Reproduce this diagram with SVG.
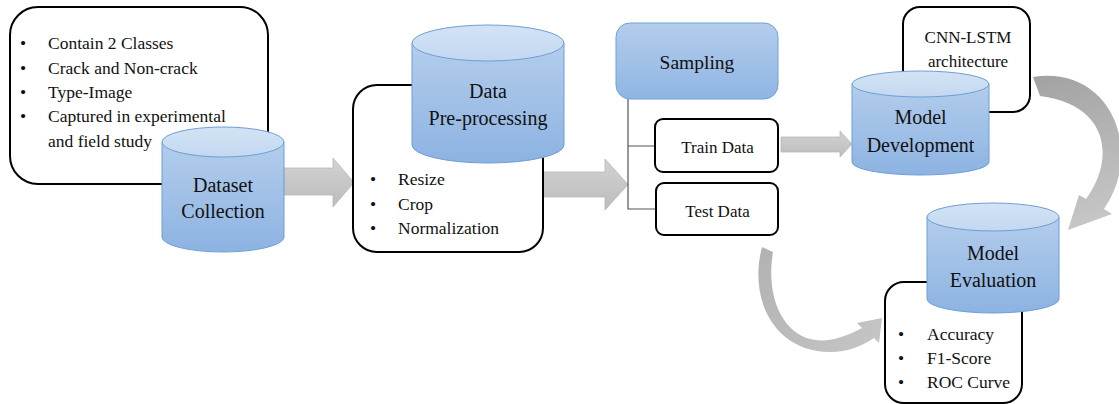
<svg xmlns="http://www.w3.org/2000/svg" width="1119" height="404" viewBox="0 0 1119 404" font-family="'Liberation Serif', 'Times New Roman', Tinos, 'DejaVu Serif', serif">
<defs>
<linearGradient id="cylBody" x1="0" y1="0" x2="0" y2="1">
<stop offset="0" stop-color="#b3cdec"/>
<stop offset="1" stop-color="#8db3e2"/>
</linearGradient>
<linearGradient id="cylTop" x1="0" y1="0" x2="0" y2="1">
<stop offset="0" stop-color="#d3e3f5"/>
<stop offset="1" stop-color="#c3d8f0"/>
</linearGradient>
<linearGradient id="sampG" x1="0" y1="0" x2="0" y2="1">
<stop offset="0" stop-color="#b4cdec"/>
<stop offset="1" stop-color="#8fb5e3"/>
</linearGradient>
<linearGradient id="arrG" x1="0" y1="0" x2="0" y2="1">
<stop offset="0" stop-color="#d2d2d2"/>
<stop offset="1" stop-color="#bcbcbc"/>
</linearGradient>
<linearGradient id="curveA" gradientUnits="userSpaceOnUse" x1="1035" y1="80" x2="1085" y2="225">
<stop offset="0" stop-color="#a3a3a3"/>
<stop offset="1" stop-color="#c6c6c6"/>
</linearGradient>
<linearGradient id="curveB" gradientUnits="userSpaceOnUse" x1="765" y1="250" x2="880" y2="330">
<stop offset="0" stop-color="#b3b3b3"/>
<stop offset="1" stop-color="#c4c4c4"/>
</linearGradient>
</defs>
<style>
text { fill: #111; }
.box { fill: #fff; stroke: #000; stroke-width: 2; }
.body { fill: url(#cylBody); stroke: #6d9fd6; stroke-width: 1; }
.top { fill: url(#cylTop); stroke: #6d9fd6; stroke-width: 1; }
.t17 { font-size: 17.5px; }
.t20 { font-size: 20px; text-anchor: middle; }
.t17m { font-size: 17px; text-anchor: middle; }
.arr { fill: url(#arrG); stroke: #b8b8b8; stroke-width: 0.8; }
.tree { fill: none; stroke: #555; stroke-width: 1.2; }
</style>
<rect width="1119" height="404" fill="#fff"/>

<g id="connectors">
<path class="arr" d="M284,168 H333 V158 L354,182.5 L333,207 V195 H284 Z"/>
<path class="arr" d="M543,172 H605 V159 L628,184.5 L605,210 V197 H543 Z"/>
<path class="arr" d="M781,137 H840 V131 L852,144 L840,157 V152 H781 Z"/>
<path class="tree" d="M628,99 V209 H656 M628,146 H655"/>
<path fill="url(#curveA)" d="M1033,77 C1110,65 1145,150 1104,209 L1112,214 L1068,230 L1079,195 L1086,199 C1115,160 1110,105 1040,96 Z"/>
<path fill="url(#curveB)" d="M762,247 C748,300 775,352 830,352 C848,352 862,346 874,338 L879,343 L882,318 L857,323 L862,328 C845,337 830,342 815,340 C785,336 765,300 773,252 Z"/>
</g>

<g id="dataset-info">
<rect class="box" x="10" y="7" width="258" height="177" rx="28"/>
<text class="t17" x="20" y="49">•</text><text class="t17" x="48" y="49">Contain 2 Classes</text>
<text class="t17" x="20" y="73.5">•</text><text class="t17" x="48" y="73.5">Crack and Non-crack</text>
<text class="t17" x="20" y="98">•</text><text class="t17" x="48" y="98">Type-Image</text>
<text class="t17" x="20" y="122">•</text><text class="t17" x="48" y="122">Captured in experimental</text>
<text class="t17" x="48" y="146.5">and field study</text>
</g>

<g id="dataset-collection">
<path class="body" d="M162,142 V237 A61,15 0 0 0 284,237 V142 Z"/>
<ellipse class="top" cx="223" cy="142" rx="61" ry="15"/>
<text class="t20" x="223" y="191.5">Dataset</text>
<text class="t20" x="223" y="218">Collection</text>
</g>

<g id="preprocessing-info">
<rect class="box" x="353" y="85" width="190" height="167" rx="24"/>
<text class="t17" x="370" y="185">•</text><text class="t17" x="398" y="185">Resize</text>
<text class="t17" x="370" y="209.5">•</text><text class="t17" x="398" y="209.5">Crop</text>
<text class="t17" x="370" y="233.5">•</text><text class="t17" x="398" y="233.5">Normalization</text>
</g>

<g id="data-preprocessing">
<path class="body" d="M412,43 V145 A76,18 0 0 0 564,145 V43 Z"/>
<ellipse class="top" cx="488" cy="43" rx="76" ry="18"/>
<text class="t20" x="488" y="98">Data</text>
<text class="t20" x="488" y="125">Pre-processing</text>
</g>

<g id="sampling">
<rect x="616" y="23" width="162" height="76" rx="14" fill="url(#sampG)" stroke="#6fa2da" stroke-width="1"/>
<text class="t20" x="697" y="68.5" style="font-size:19.5px">Sampling</text>
</g>

<g id="train-data">
<rect class="box" x="655" y="119" width="123" height="53" rx="8"/>
<text class="t17m" x="717.5" y="152.5">Train Data</text>
</g>

<g id="test-data">
<rect class="box" x="656" y="183" width="122" height="52" rx="8"/>
<text class="t17m" x="717.5" y="217">Test Data</text>
</g>

<g id="cnn-lstm">
<rect class="box" x="903" y="7" width="127" height="105" rx="17"/>
<text class="t17m" x="968" y="43">CNN-LSTM</text>
<text class="t17m" x="968" y="66.5">architecture</text>
</g>

<g id="model-development">
<path class="body" d="M852,84 V162 A68.5,13 0 0 0 989,162 V84 Z"/>
<ellipse class="top" cx="920.5" cy="84" rx="68.5" ry="13"/>
<text class="t20" x="920.5" y="124">Model</text>
<text class="t20" x="920.5" y="151.5">Development</text>
</g>

<g id="evaluation-metrics">
<rect class="box" x="885" y="282" width="137" height="121" rx="19"/>
<text class="t17" x="898" y="340">•</text><text class="t17" x="927" y="340">Accuracy</text>
<text class="t17" x="898" y="364">•</text><text class="t17" x="927" y="364">F1-Score</text>
<text class="t17" x="898" y="388">•</text><text class="t17" x="927" y="388">ROC Curve</text>
</g>

<g id="model-evaluation">
<path class="body" d="M927,217 V299 A66,14 0 0 0 1059,299 V217 Z"/>
<ellipse class="top" cx="993" cy="217" rx="66" ry="14"/>
<text class="t20" x="993" y="260">Model</text>
<text class="t20" x="993" y="286.5">Evaluation</text>
</g>
</svg>
